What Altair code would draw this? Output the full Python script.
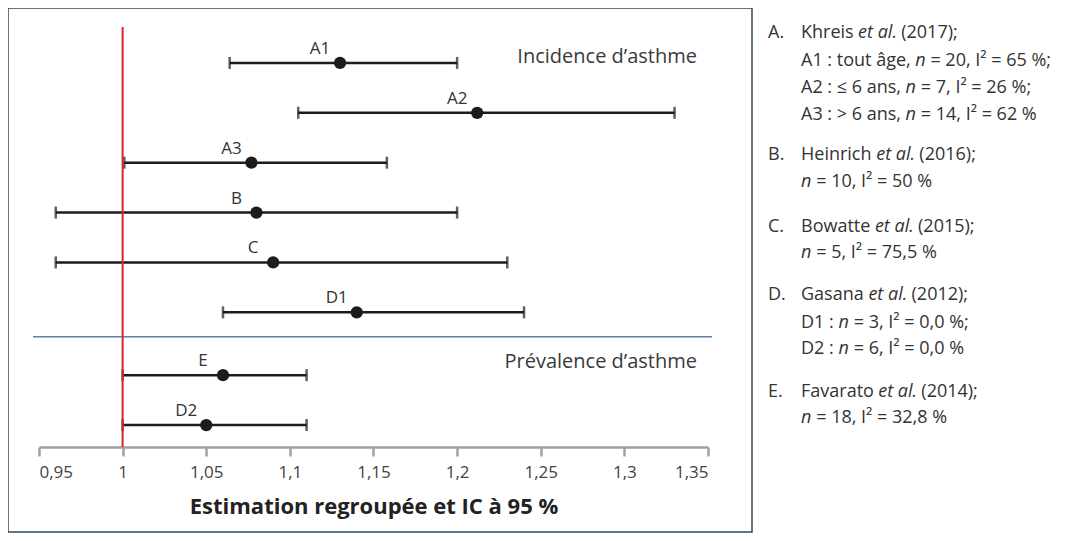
import altair as alt
import pandas as pd

# ---- data ----
etiquettes = ["A1", "A2", "A3", "B", "C", "D1", "E", "D2"]
estimations = [1.130, 1.212, 1.077, 1.080, 1.090, 1.140, 1.060, 1.050]
bornes_inf = [1.064, 1.105, 1.001, 0.960, 0.960, 1.060, 1.000, 1.000]
bornes_sup = [1.200, 1.330, 1.158, 1.200, 1.230, 1.240, 1.110, 1.110]
rangs = [0, 1, 2, 3, 4, 5, 6.26, 7.26]
separation = [5.49]
valeur_nulle = [1.0]
graduations = [0.95, 1.0, 1.05, 1.1, 1.15, 1.2, 1.25, 1.3, 1.35]
titre_axe = "Estimation regroupée et IC à 95 %"
rubriques = ["Incidence d’asthme", "Prévalence d’asthme"]

# legend lines: (letter, [(text, italic), ...])
legende = [
    ("A.", [("Khreis ", False), ("et al.", True), (" (2017);", False)]),
    ("", [("A1 : tout âge, ", False), ("n", True), (" = 20, I² = 65 %;", False)]),
    ("", [("A2 : ≤ 6 ans, ", False), ("n", True), (" = 7, I² = 26 %;", False)]),
    ("", [("A3 : > 6 ans, ", False), ("n", True), (" = 14, I² = 62 %", False)]),
    ("B.", [("Heinrich ", False), ("et al.", True), (" (2016);", False)]),
    ("", [("n", True), (" = 10, I² = 50 %", False)]),
    ("C.", [("Bowatte ", False), ("et al.", True), (" (2015);", False)]),
    ("", [("n", True), (" = 5, I² = 75,5 %", False)]),
    ("D.", [("Gasana ", False), ("et al.", True), (" (2012);", False)]),
    ("", [("D1 : ", False), ("n", True), (" = 3, I² = 0,0 %;", False)]),
    ("", [("D2 : ", False), ("n", True), (" = 6, I² = 0,0 %", False)]),
    ("E.", [("Favarato ", False), ("et al.", True), (" (2014);", False)]),
    ("", [("n", True), (" = 18, I² = 32,8 %", False)]),
]
# layout of legend (pixels relative to plot origin)
leg_y = [6, 34, 61, 88, 128, 155, 200, 226, 268, 296, 322, 365, 391]
leg_x_lettre = 729
leg_x_texte = 762
leg_fs = 18
FONT = "Open Sans"

# approximate Open Sans advance widths (em)
W = {" ": 0.26, "a": 0.556, "b": 0.613, "c": 0.48, "d": 0.613, "e": 0.561, "f": 0.336,
     "g": 0.546, "h": 0.614, "i": 0.252, "k": 0.53, "l": 0.252, "m": 0.93, "n": 0.614,
     "o": 0.601, "p": 0.613, "r": 0.408, "s": 0.477, "t": 0.353, "u": 0.614, "v": 0.499,
     "w": 0.775, "x": 0.522, "y": 0.5, "z": 0.468, ".": 0.266, ",": 0.25, ";": 0.266,
     ":": 0.266, "(": 0.296, ")": 0.296, "%": 0.823, "=": 0.572, "≤": 0.572, ">": 0.572,
     "²": 0.36, "I": 0.279, "A": 0.633, "B": 0.647, "C": 0.631, "D": 0.729, "E": 0.556,
     "F": 0.5, "G": 0.726, "H": 0.738, "K": 0.6, "â": 0.556}


def largeur(s, ital):
    w = sum(W.get(ch, 0.572) for ch in s) * leg_fs
    return w * (0.95 if ital else 1.0)


rows_n, rows_i = [], []
for (lettre, segs), yy in zip(legende, leg_y):
    if lettre:
        rows_n.append({"t": lettre, "x": leg_x_lettre, "y": yy})
    cx = leg_x_texte
    for txt, ital in segs:
        lead = len(txt) - len(txt.lstrip(" "))
        x0 = cx + largeur(" " * lead, ital)
        (rows_i if ital else rows_n).append({"t": txt.strip(" "), "x": x0, "y": yy})
        cx += largeur(txt, ital)

df = pd.DataFrame({"lab": etiquettes, "est": estimations, "lo": bornes_inf,
                   "hi": bornes_sup, "rang": rangs})

xsc = alt.Scale(domain=[0.95, 1.35], nice=False, zero=False)
ysc = alt.Scale(domain=[-0.72, 7.70], nice=False, zero=False, reverse=True)
xax = alt.Axis(values=graduations, grid=False,
               labelExpr="replace(format(datum.value, '.2~f'), '.', ',')",
               domainColor="#a0a0a0", domainWidth=2.5, tickColor="#a0a0a0",
               tickWidth=2.5, tickSize=9, labelFont=FONT, labelFontSize=17,
               labelColor="#444444", labelPadding=8, titleFont=FONT,
               titleFontSize=22, titleFontWeight="bold", titleColor="#222222",
               titlePadding=16)


def X(f):
    return alt.X(f, type="quantitative", scale=xsc, axis=xax, title=titre_axe)


Y = alt.Y("rang:Q", scale=ysc, axis=None)
NOIR = "#1c1c1c"

base = alt.Chart(df)
barres = base.mark_rule(color=NOIR, strokeWidth=2.5).encode(x=X("lo"), x2="hi", y=Y)
cap_lo = base.mark_tick(orient="vertical", color=NOIR, thickness=2.5, size=12).encode(x=X("lo"), y=Y)
cap_hi = base.mark_tick(orient="vertical", color=NOIR, thickness=2.5, size=12).encode(x=X("hi"), y=Y)
points = base.mark_circle(color=NOIR, size=150, opacity=1).encode(x=X("est"), y=Y)
labels = base.mark_text(font=FONT, fontSize=17, color="#333333", dx=-20, dy=-14).encode(
    x=X("est"), y=Y, text="lab")

ligne_rouge = alt.Chart(pd.DataFrame({"v": valeur_nulle})).mark_rule(
    color="#d7262b", strokeWidth=2).encode(x=X("v"))
sep = alt.Chart(pd.DataFrame({"rang": separation})).mark_rule(
    color="#5a82ab", strokeWidth=1.5).encode(y=Y, x=alt.value(-6), x2=alt.value(673))

rub = alt.Chart(pd.DataFrame({"t": rubriques, "py": [30, 335]})).mark_text(
    align="right", baseline="middle", font=FONT, fontSize=20, color="#3a3a3a").encode(
    x=alt.value(658), y=alt.Y("py:Q", scale=None), text="t")

cadre = alt.Chart(pd.DataFrame({"a": [0]})).mark_rect(
    fillOpacity=0, stroke="#2b4a5c", strokeWidth=1.5).encode(
    x=alt.value(-31), x2=alt.value(713), y=alt.value(-19), y2=alt.value(505))

leg_n = alt.Chart(pd.DataFrame(rows_n)).mark_text(
    align="left", baseline="middle", font=FONT, fontSize=leg_fs, color="#333333").encode(
    x=alt.X("x:Q", scale=None), y=alt.Y("y:Q", scale=None), text="t")
leg_i = alt.Chart(pd.DataFrame(rows_i)).mark_text(
    align="left", baseline="middle", font=FONT, fontSize=leg_fs, fontStyle="italic",
    color="#333333").encode(
    x=alt.X("x:Q", scale=None), y=alt.Y("y:Q", scale=None), text="t")

chart = alt.layer(cadre, sep, barres, cap_lo, cap_hi, ligne_rouge, points, labels,
                  rub, leg_n, leg_i).properties(
    width=669, height=420,
    padding={"left": 31, "top": 19, "right": 375, "bottom": 86},
    autosize=alt.AutoSizeParams(type="none"),
    background="white",
).configure_view(stroke=None)

chart.save("out.html", embed_options={"renderer": "svg", "actions": False})
